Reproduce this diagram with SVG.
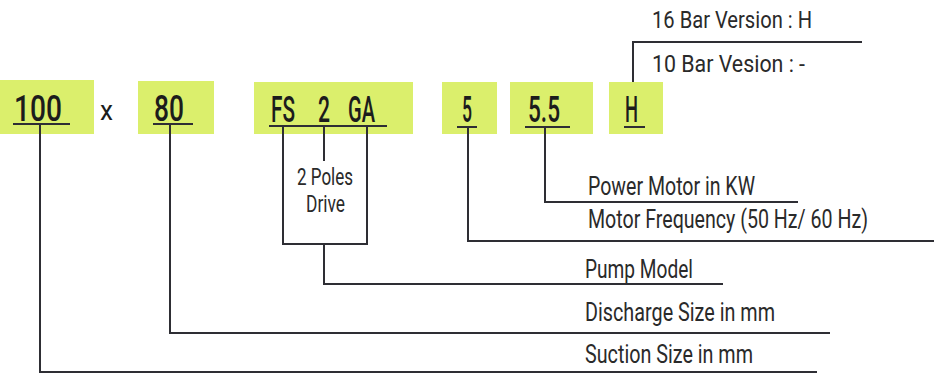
<svg xmlns="http://www.w3.org/2000/svg" width="934" height="376" viewBox="0 0 934 376">
<style>
.box{fill:#dbef6c}
.code{font-family:Roboto,"Liberation Sans",sans-serif;font-size:37px;font-weight:500;fill:#1c1c1c}
.lbl{font-family:Roboto,"Liberation Sans",sans-serif;font-size:25px;fill:#2a2a2a}
.top{font-size:24px}
.sm{font-family:Roboto,"Liberation Sans",sans-serif;font-size:23px;fill:#2a2a2a}
.ln{stroke:#2e2e34;stroke-width:2;fill:none}
</style>
<rect width="934" height="376" fill="#ffffff"/>
<g id="node-100">
<rect class="box" x="0" y="80" width="94" height="54"/>
<text class="code" x="14" y="121" textLength="48" lengthAdjust="spacingAndGlyphs">100</text>
<line class="ln" x1="13" y1="124" x2="70" y2="124"/>
</g>
<g id="node-x">
<text class="code" x="100" y="120" style="font-size:28px;font-weight:400" textLength="13" lengthAdjust="spacingAndGlyphs">x</text>
</g>
<g id="node-80">
<rect class="box" x="138" y="81" width="76" height="53"/>
<text class="code" x="154" y="121" textLength="30" lengthAdjust="spacingAndGlyphs">80</text>
<line class="ln" x1="153" y1="124" x2="193" y2="124"/>
</g>
<g id="node-fs2ga">
<rect class="box" x="254" y="82" width="159" height="52"/>
<text class="code" x="271" y="122" textLength="24" lengthAdjust="spacingAndGlyphs">FS</text>
<text class="code" x="318" y="122" textLength="12" lengthAdjust="spacingAndGlyphs">2</text>
<text class="code" x="348" y="122" textLength="27" lengthAdjust="spacingAndGlyphs">GA</text>
<line class="ln" x1="269" y1="126" x2="387" y2="126"/>
</g>
<g id="node-5">
<rect class="box" x="442" y="82" width="55" height="52"/>
<text class="code" x="462" y="122" textLength="10" lengthAdjust="spacingAndGlyphs">5</text>
<line class="ln" x1="457" y1="127" x2="477" y2="127"/>
</g>
<g id="node-5_5">
<rect class="box" x="510" y="82" width="83" height="52"/>
<text class="code" x="528" y="122" textLength="32" lengthAdjust="spacingAndGlyphs">5.5</text>
<line class="ln" x1="525" y1="127" x2="570" y2="127"/>
</g>
<g id="node-h">
<rect class="box" x="609" y="82" width="54" height="52"/>
<text class="code" x="625" y="122" textLength="13" lengthAdjust="spacingAndGlyphs">H</text>
<line class="ln" x1="624" y1="127" x2="645" y2="127"/>
</g>
<g id="connectors">
<polyline class="ln" points="40,124 40,372 817,372"/>
<polyline class="ln" points="170,124 170,333 830,333"/>
<polyline class="ln" points="283,126 283,244 367,244 367,126"/>
<line class="ln" x1="324" y1="126" x2="324" y2="161"/>
<polyline class="ln" points="324,244 324,284 723,284"/>
<polyline class="ln" points="468,127 468,241 934,241"/>
<polyline class="ln" points="545,127 545,202 798,202"/>
<polyline class="ln" points="633,82 633,42 862,42"/>
</g>
<g id="labels">
<text class="lbl top" x="652" y="28" textLength="160" lengthAdjust="spacingAndGlyphs">16 Bar Version : H</text>
<text class="lbl top" x="652" y="72" textLength="153" lengthAdjust="spacingAndGlyphs">10 Bar Vesion : -</text>
<text class="lbl" x="588" y="195" textLength="167" lengthAdjust="spacingAndGlyphs">Power Motor in KW</text>
<text class="lbl" x="588" y="228" textLength="280" lengthAdjust="spacingAndGlyphs">Motor Frequency (50 Hz/ 60 Hz)</text>
<text class="lbl" x="585" y="278" textLength="108" lengthAdjust="spacingAndGlyphs">Pump Model</text>
<text class="lbl" x="585" y="321" textLength="190" lengthAdjust="spacingAndGlyphs">Discharge Size in mm</text>
<text class="lbl" x="585" y="363" textLength="168" lengthAdjust="spacingAndGlyphs">Suction Size in mm</text>
<text class="sm" x="297" y="185" textLength="56" lengthAdjust="spacingAndGlyphs">2 Poles</text>
<text class="sm" x="306" y="212" textLength="39" lengthAdjust="spacingAndGlyphs">Drive</text>
</g>
</svg>
